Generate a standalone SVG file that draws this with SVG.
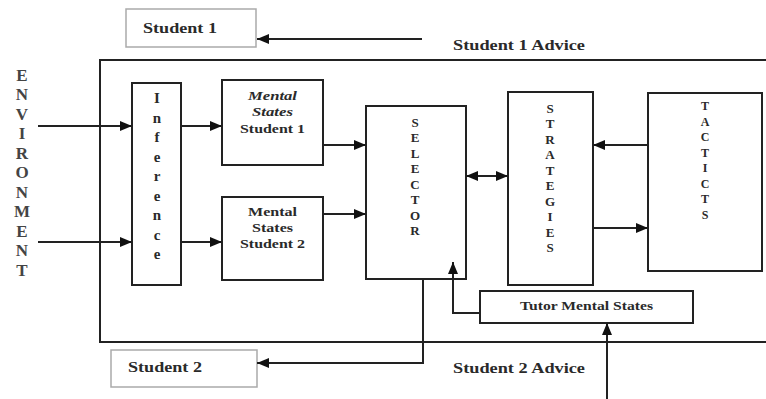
<svg xmlns="http://www.w3.org/2000/svg" width="766" height="399" viewBox="0 0 766 399">
<style>
.box{fill:#fff;stroke:#222;stroke-width:2}
.lbox{fill:#fff;stroke:#aaa;stroke-width:1.5}
.ln{fill:none;stroke:#222;stroke-width:2}
text{font-family:"Liberation Serif","Times New Roman",serif;fill:#2a2a2a;font-weight:bold;text-anchor:middle;dominant-baseline:central}
.env{font-size:17px;fill:#444}
.inf{font-size:15px}
.v{font-size:13px}
.vt{font-size:12px}
.m{font-size:13px}
.i{font-style:italic}
</style>
<defs>
<marker id="ah" markerUnits="userSpaceOnUse" markerWidth="12" markerHeight="10" refX="12" refY="5" orient="auto-start-reverse">
<path d="M0,0 L12,5 L0,10 z" fill="#111"/>
</marker>
</defs>
<rect width="766" height="399" fill="#fff"/>
<path class="ln" d="M766,60 H100 V342 H766"/>
<g id="environment">
<text class="env" x="22" y="75">E</text>
<text class="env" x="22" y="94.5">N</text>
<text class="env" x="22" y="114">V</text>
<text class="env" x="22" y="133.5">I</text>
<text class="env" x="22" y="153">R</text>
<text class="env" x="22" y="172.5">O</text>
<text class="env" x="22" y="192">N</text>
<text class="env" x="22" y="211.5">M</text>
<text class="env" x="22" y="231">E</text>
<text class="env" x="22" y="250.5">N</text>
<text class="env" x="22" y="270">T</text>
</g>
<g id="student1">
<rect class="lbox" x="126" y="9" width="130" height="38"/>
<text x="180" y="28" font-size="15" textLength="74" lengthAdjust="spacingAndGlyphs">Student 1</text>
</g>
<g id="student2">
<rect class="lbox" x="111" y="350" width="146" height="37"/>
<text x="165" y="367" font-size="15" textLength="74" lengthAdjust="spacingAndGlyphs">Student 2</text>
</g>
<g id="advice-labels">
<text x="519" y="45" font-size="15" textLength="132" lengthAdjust="spacingAndGlyphs">Student 1 Advice</text>
<text x="519" y="368" font-size="15" textLength="132" lengthAdjust="spacingAndGlyphs">Student 2 Advice</text>
</g>
<g id="inference">
<rect class="box" x="132" y="83" width="49" height="202"/>
<text class="inf" x="157" y="98">I</text>
<text class="inf" x="157" y="117.5">n</text>
<text class="inf" x="157" y="137">f</text>
<text class="inf" x="157" y="156.5">e</text>
<text class="inf" x="157" y="176">r</text>
<text class="inf" x="157" y="195.5">e</text>
<text class="inf" x="157" y="215">n</text>
<text class="inf" x="157" y="234.5">c</text>
<text class="inf" x="157" y="254">e</text>
</g>
<g id="ms1">
<rect class="box" x="222" y="80" width="101" height="85"/>
<text class="m i" x="272.5" y="95" textLength="49" lengthAdjust="spacingAndGlyphs">Mental</text>
<text class="m i" x="272.5" y="111" textLength="41" lengthAdjust="spacingAndGlyphs">States</text>
<text class="m" x="272.5" y="128" textLength="65" lengthAdjust="spacingAndGlyphs">Student 1</text>
</g>
<g id="ms2">
<rect class="box" x="222" y="197" width="101" height="83"/>
<text class="m" x="272.5" y="211" textLength="49" lengthAdjust="spacingAndGlyphs">Mental</text>
<text class="m" x="272.5" y="227" textLength="41" lengthAdjust="spacingAndGlyphs">States</text>
<text class="m" x="272.5" y="243" textLength="65" lengthAdjust="spacingAndGlyphs">Student 2</text>
</g>
<g id="selector">
<rect class="box" x="366" y="106" width="100" height="173"/>
<text class="v" x="415" y="122">S</text>
<text class="v" x="415" y="137.5">E</text>
<text class="v" x="415" y="153">L</text>
<text class="v" x="415" y="168.5">E</text>
<text class="v" x="415" y="184">C</text>
<text class="v" x="415" y="199.5">T</text>
<text class="v" x="415" y="215">O</text>
<text class="v" x="415" y="230.5">R</text>
</g>
<g id="strategies">
<rect class="box" x="508" y="92" width="85" height="193"/>
<text class="v" x="550" y="108">S</text>
<text class="v" x="550" y="123.5">T</text>
<text class="v" x="550" y="139">R</text>
<text class="v" x="550" y="154.5">A</text>
<text class="v" x="550" y="170">T</text>
<text class="v" x="550" y="185.5">E</text>
<text class="v" x="550" y="201">G</text>
<text class="v" x="550" y="216.5">I</text>
<text class="v" x="550" y="232">E</text>
<text class="v" x="550" y="247.5">S</text>
</g>
<g id="tactics">
<rect class="box" x="648" y="93" width="114" height="178"/>
<text class="vt" x="705" y="106">T</text>
<text class="vt" x="705" y="121.5">A</text>
<text class="vt" x="705" y="137">C</text>
<text class="vt" x="705" y="152.5">T</text>
<text class="vt" x="705" y="168">I</text>
<text class="vt" x="705" y="183.5">C</text>
<text class="vt" x="705" y="199">T</text>
<text class="vt" x="705" y="214.5">S</text>
</g>
<g id="tutor">
<rect class="box" x="480" y="291" width="213" height="32"/>
<text x="586.5" y="306" font-size="12" textLength="133" lengthAdjust="spacingAndGlyphs">Tutor Mental States</text>
</g>
<g id="connectors">
<line class="ln" x1="422" y1="39" x2="257" y2="39" marker-end="url(#ah)"/>
<line class="ln" x1="38" y1="126" x2="132" y2="126" marker-end="url(#ah)"/>
<line class="ln" x1="38" y1="242" x2="132" y2="242" marker-end="url(#ah)"/>
<line class="ln" x1="181" y1="126" x2="222" y2="126" marker-end="url(#ah)"/>
<line class="ln" x1="181" y1="242" x2="222" y2="242" marker-end="url(#ah)"/>
<line class="ln" x1="323" y1="145" x2="366" y2="145" marker-end="url(#ah)"/>
<line class="ln" x1="323" y1="214" x2="366" y2="214" marker-end="url(#ah)"/>
<line class="ln" x1="466" y1="176" x2="508" y2="176" marker-start="url(#ah)" marker-end="url(#ah)"/>
<line class="ln" x1="648" y1="145" x2="593" y2="145" marker-end="url(#ah)"/>
<line class="ln" x1="593" y1="228" x2="648" y2="228" marker-end="url(#ah)"/>
<polyline class="ln" points="480,313 453,313 453,262" marker-end="url(#ah)"/>
<polyline class="ln" points="423,279 423,363 257,363" marker-end="url(#ah)"/>
<line class="ln" x1="607" y1="399" x2="607" y2="323" marker-end="url(#ah)"/>
</g>
</svg>
